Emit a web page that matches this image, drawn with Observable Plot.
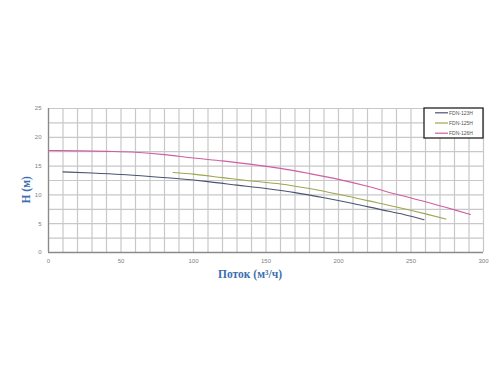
<!DOCTYPE html>
<html><head><meta charset="utf-8">
<script src="https://cdn.jsdelivr.net/npm/d3@7"></script>
<script src="https://cdn.jsdelivr.net/npm/@observablehq/plot@0.6"></script>
<style>body{margin:0;background:#fff;} </style>
</head><body><div id="chart"></div>
<script>
const seriesNames = ["FDN-123H", "FDN-125H", "FDN-126H"];
const seriesColors = ["#4a5470", "#9ea64e", "#cf5ea2"];
const q123 = [10, 30, 50, 70, 90, 110, 130, 150, 170, 190, 210, 230, 245, 259];
const h123 = [14.0, 13.8, 13.55, 13.2, 12.8, 12.3, 11.7, 11.1, 10.4, 9.5, 8.5, 7.4, 6.6, 5.7];
const q125 = [86, 100, 120, 140, 160, 180, 200, 220, 240, 260, 274];
const h125 = [13.9, 13.6, 13.0, 12.4, 11.9, 11.1, 10.1, 9.0, 7.9, 6.7, 5.8];
const q126 = [0, 20, 40, 60, 80, 100, 120, 140, 160, 180, 200, 220, 240, 260, 280, 291];
const h126 = [17.7, 17.65, 17.55, 17.4, 17.0, 16.4, 15.9, 15.3, 14.6, 13.7, 12.7, 11.5, 10.1, 8.8, 7.4, 6.6];
const xTicks = [0, 50, 100, 150, 200, 250, 300];
const yTicks = [0, 5, 10, 15, 20, 25];
const xLabel = "Поток (м³/ч)";
const yLabel = "H (м)";

(function () {
const qs = [q123, q125, q126], hs = [h123, h125, h126];
const data = seriesNames.flatMap((s, i) => qs[i].map((q, j) => ({series: s, q, h: hs[i][j]})));

const plot = Plot.plot({
  width: 500, height: 375,
  marginLeft: 48, marginRight: 17, marginTop: 108, marginBottom: 123,
  style: {fontFamily: "Liberation Sans, Arial, sans-serif", background: "#fff"},
  x: {domain: [0, 300]},
  y: {domain: [0, 25]},
  color: {domain: seriesNames, range: seriesColors},
  marks: [
    Plot.gridX(d3.range(0, 301, 10), {stroke: "#c8c8c8", strokeOpacity: 1, strokeWidth: 1.2}),
    Plot.gridY(d3.range(0, 25.01, 2.5), {stroke: "#c8c8c8", strokeOpacity: 1, strokeWidth: 1.2}),
    Plot.ruleX([0], {stroke: "#8a8a8a", strokeWidth: 1.3}),
    Plot.ruleY([0], {stroke: "#8a8a8a", strokeWidth: 1.3}),
    Plot.axisX(xTicks, {tickSize: 0, tickPadding: 6, fontSize: 6, fill: "#808080", label: null}),
    Plot.axisY(yTicks, {tickSize: 0, tickPadding: 7, fontSize: 6, fill: "#808080", label: null}),
    Plot.line(data, {x: "q", y: "h", z: "series", stroke: "series", strokeWidth: 1.1, curve: "monotone-x"}),
    Plot.text([xLabel], {frameAnchor: "bottom", dx: -16, dy: 25, text: d => d, fontFamily: "Liberation Serif, Times New Roman, serif", fontWeight: "bold", fontSize: 11.5, fill: "#3b6fae"}),
    Plot.text([yLabel], {frameAnchor: "left", dx: -22, dy: 23, rotate: -90, text: d => d, fontFamily: "Liberation Serif, Times New Roman, serif", fontWeight: "bold", fontSize: 11.5, fill: "#3b6fae"})
  ]
});

// Legend box in the top-right corner of the frame
const svg = d3.select(plot);
const sx = plot.scale("x"), sy = plot.scale("y");
const rightEdge = sx.apply(300), topEdge = sy.apply(25);
const lg = svg.append("g").attr("transform", `translate(${rightEdge - 59},${topEdge})`)
  .style("text-anchor", "start");
lg.append("rect").attr("width", 59).attr("height", 30).style("fill", "#fff").style("stroke", "#222").style("stroke-width", "1.3px");
seriesNames.forEach((s, i) => {
  const yy = 4.8 + i * 10.2;
  lg.append("line").attr("x1", 11).attr("x2", 24).attr("y1", yy).attr("y2", yy).style("stroke", seriesColors[i]).style("stroke-width", "1.2px");
  lg.append("text").attr("x", 25).attr("y", yy).attr("dy", "0.35em")
    .style("font-size", "5px").style("fill", "#555").style("font-family", "Liberation Sans, Arial, sans-serif")
    .text(s);
});

document.getElementById("chart").appendChild(plot);
})();
</script>
</body></html>
